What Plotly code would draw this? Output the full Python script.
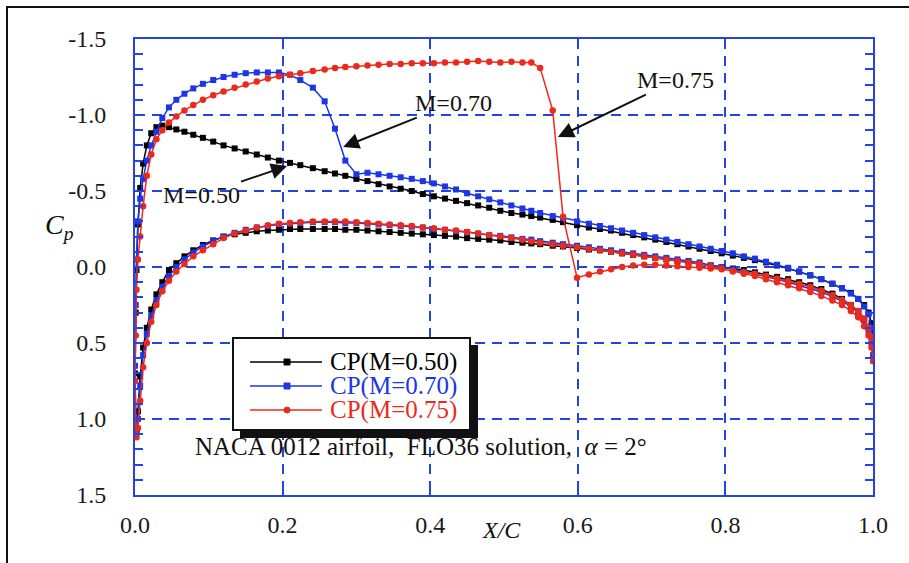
import plotly.graph_objects as go

# Chordwise stations shared by both surfaces (x/c)
X_STATIONS = [
    0.0, 0.001, 0.002, 0.004, 0.007, 0.011, 0.016, 0.022, 0.029, 0.037,
    0.046, 0.056, 0.067, 0.079, 0.092, 0.106, 0.12, 0.135, 0.15, 0.165,
    0.18, 0.195, 0.21, 0.224, 0.241, 0.257, 0.271, 0.285, 0.30, 0.315,
    0.33, 0.345, 0.36, 0.375, 0.39, 0.405, 0.42, 0.435, 0.45, 0.465,
    0.48, 0.495, 0.51, 0.525, 0.537, 0.549, 0.566, 0.58, 0.599, 0.615,
    0.63, 0.645, 0.66, 0.675, 0.69, 0.705, 0.72, 0.735, 0.75, 0.765,
    0.78, 0.795, 0.81, 0.825, 0.84, 0.855, 0.87, 0.885, 0.90, 0.915,
    0.93, 0.945, 0.958, 0.97, 0.98, 0.988, 0.994, 0.998, 1.0,
]

# Upper-surface Cp, one value per station (starting at x/c = 0)
CP_UPPER_M050 = [
    0.70, 0.30, 0.02, -0.28, -0.52, -0.68, -0.80, -0.88, -0.92, -0.93,
    -0.92, -0.905, -0.89, -0.87, -0.85, -0.825, -0.80, -0.78, -0.76, -0.74,
    -0.72, -0.70, -0.685, -0.67, -0.65, -0.63, -0.615, -0.60, -0.58, -0.565,
    -0.545, -0.53, -0.515, -0.50, -0.48, -0.465, -0.45, -0.435, -0.42, -0.405,
    -0.39, -0.37, -0.355, -0.345, -0.335, -0.325, -0.31, -0.295, -0.275, -0.26,
    -0.25, -0.24, -0.225, -0.21, -0.195, -0.18, -0.165, -0.15, -0.135, -0.12,
    -0.105, -0.09, -0.075, -0.06, -0.045, -0.03, -0.01, 0.01, 0.03, 0.055,
    0.08, 0.11, 0.14, 0.17, 0.21, 0.25, 0.30, 0.37, 0.46,
]
CP_UPPER_M070 = [
    0.65, 0.25, -0.05, -0.30, -0.45, -0.58, -0.70, -0.80, -0.89, -0.98,
    -1.05, -1.10, -1.14, -1.175, -1.205, -1.23, -1.25, -1.265, -1.275, -1.28,
    -1.28, -1.28, -1.265, -1.23, -1.18, -1.09, -0.91, -0.70, -0.61, -0.62,
    -0.61, -0.60, -0.59, -0.58, -0.565, -0.55, -0.53, -0.51, -0.485, -0.465,
    -0.445, -0.425, -0.405, -0.385, -0.37, -0.355, -0.335, -0.32, -0.30, -0.285,
    -0.27, -0.255, -0.24, -0.225, -0.21, -0.195, -0.18, -0.165, -0.15, -0.135,
    -0.12, -0.105, -0.09, -0.07, -0.055, -0.035, -0.015, 0.005, 0.03, 0.055,
    0.08, 0.11, 0.14, 0.175, 0.21, 0.26, 0.31, 0.40, 0.50,
]
CP_UPPER_M075 = [
    0.75, 0.45, 0.15, -0.05, -0.20, -0.40, -0.60, -0.74, -0.84, -0.90,
    -0.95, -0.99, -1.03, -1.065, -1.10, -1.13, -1.155, -1.18, -1.20, -1.22,
    -1.24, -1.255, -1.265, -1.275, -1.29, -1.30, -1.31, -1.315, -1.32, -1.325,
    -1.33, -1.335, -1.335, -1.34, -1.34, -1.34, -1.345, -1.345, -1.35, -1.355,
    -1.35, -1.345, -1.35, -1.345, -1.345, -1.31, -1.03, -0.33, 0.07, 0.05,
    0.03, 0.015, 0.0, -0.01, -0.015, -0.015, -0.01, -0.005, 0.0, 0.005,
    0.01, 0.015, 0.025, 0.035, 0.045, 0.06, 0.075, 0.09, 0.11, 0.13,
    0.155, 0.185, 0.215, 0.25, 0.29, 0.34, 0.40, 0.46, 0.47,
]

# Lower-surface Cp, one value per station from x/c = 0.001 onward
CP_LOWER_M050 = [
    1.00, 1.07, 0.95, 0.72, 0.53, 0.40, 0.28, 0.18, 0.10,
    0.02, -0.025, -0.07, -0.11, -0.145, -0.175, -0.20, -0.215, -0.225, -0.235,
    -0.24, -0.245, -0.25, -0.25, -0.25, -0.25, -0.25, -0.245, -0.245, -0.24,
    -0.235, -0.23, -0.225, -0.22, -0.215, -0.21, -0.205, -0.20, -0.19, -0.185,
    -0.18, -0.175, -0.165, -0.16, -0.155, -0.15, -0.14, -0.135, -0.125, -0.115,
    -0.11, -0.10, -0.09, -0.08, -0.07, -0.06, -0.05, -0.04, -0.03, -0.02,
    -0.01, 0.0, 0.01, 0.02, 0.035, 0.05, 0.065, 0.08, 0.10, 0.12,
    0.145, 0.175, 0.21, 0.25, 0.29, 0.34, 0.40, 0.46, 0.52,
]
CP_LOWER_M070 = [
    1.03, 1.09, 1.00, 0.78, 0.58, 0.44, 0.32, 0.22, 0.13,
    0.06, 0.0, -0.05, -0.095, -0.135, -0.17, -0.20, -0.225, -0.245, -0.26,
    -0.27, -0.28, -0.285, -0.29, -0.295, -0.295, -0.295, -0.29, -0.29, -0.285,
    -0.28, -0.275, -0.27, -0.265, -0.26, -0.25, -0.245, -0.235, -0.23, -0.22,
    -0.21, -0.205, -0.195, -0.185, -0.18, -0.17, -0.16, -0.15, -0.14, -0.13,
    -0.12, -0.11, -0.10, -0.09, -0.08, -0.07, -0.06, -0.05, -0.04, -0.03,
    -0.01, 0.0, 0.015, 0.03, 0.045, 0.06, 0.08, 0.10, 0.12, 0.14,
    0.165, 0.195, 0.225, 0.26, 0.30, 0.35, 0.42, 0.50, 0.58,
]
CP_LOWER_M075 = [
    1.05, 1.12, 1.06, 0.88, 0.66, 0.50, 0.36, 0.25, 0.16,
    0.09, 0.03, -0.02, -0.07, -0.11, -0.15, -0.19, -0.22, -0.24, -0.26,
    -0.275, -0.285, -0.29, -0.295, -0.30, -0.30, -0.30, -0.30, -0.295, -0.29,
    -0.285, -0.28, -0.275, -0.27, -0.26, -0.255, -0.245, -0.24, -0.23, -0.22,
    -0.21, -0.20, -0.19, -0.18, -0.17, -0.16, -0.15, -0.14, -0.13, -0.12,
    -0.11, -0.10, -0.09, -0.08, -0.07, -0.06, -0.05, -0.04, -0.03, -0.02,
    -0.005, 0.01, 0.03, 0.045, 0.06, 0.08, 0.10, 0.12, 0.14, 0.165,
    0.19, 0.22, 0.25, 0.29, 0.33, 0.39, 0.45, 0.53, 0.62,
]

SERIES_NAMES = ["CP(M=0.50)", "CP(M=0.70)", "CP(M=0.75)"]
SERIES_COLORS = ["#000000", "#1b36e6", "#ec2a1c"]
SERIES_SYMBOLS = ["square", "square", "circle"]
SERIES_SIZES = [6, 6, 6.5]

X_TICKS = [0.0, 0.2, 0.4, 0.6, 0.8, 1.0]
X_TICK_LABELS = ["0.0", "0.2", "0.4", "0.6", "0.8", "1.0"]
Y_TICKS = [-1.5, -1.0, -0.5, 0.0, 0.5, 1.0, 1.5]
Y_TICK_LABELS = ["-1.5", "-1.0", "-0.5", "0.0", "0.5", "1.0", "1.5"]

# Arrow call-outs: (label, x of arrow tip, Cp of arrow tip, text offset px)
CALLOUTS = [
    ("M=0.50", 0.206, -0.664, -86, 29),
    ("M=0.70", 0.282, -0.789, 110, -44),
    ("M=0.75", 0.573, -0.855, 118, -57),
]

AXIS_BLUE = "#2443e0"
SERIF = "Liberation Serif, Times New Roman, serif"
W, H = 909, 563
L, R, T, B = 135, 36, 39, 68
PW, PH = W - L - R, H - T - B


def px_to_paper(px, py):
    return (px - L) / PW, (H - B - py) / PH


uppers = [CP_UPPER_M050, CP_UPPER_M070, CP_UPPER_M075]
lowers = [CP_LOWER_M050, CP_LOWER_M070, CP_LOWER_M075]

fig = go.Figure()
for name, color, sym, size, up, lo in zip(SERIES_NAMES, SERIES_COLORS, SERIES_SYMBOLS,
                                          SERIES_SIZES, uppers, lowers):
    # trailing edge (upper) -> leading edge -> trailing edge (lower)
    xs = X_STATIONS[::-1] + X_STATIONS[1:]
    ys = up[::-1] + lo
    fig.add_trace(go.Scatter(
        x=xs, y=ys, mode="lines+markers", name=name, showlegend=False,
        line=dict(color=color, width=1.5),
        marker=dict(symbol=sym, size=size, color=color),
    ))

axis_common = dict(
    showline=True, linecolor=AXIS_BLUE, linewidth=2, mirror="ticks",
    ticks="inside", ticklen=8, tickwidth=2, tickcolor=AXIS_BLUE,
    showgrid=True, gridcolor=AXIS_BLUE, gridwidth=2, griddash="10px,7px",
    zeroline=False, tickfont=dict(family=SERIF, size=24, color="#1a1a1a"),
)
fig.update_xaxes(range=[0, 1], tickvals=X_TICKS, ticktext=X_TICK_LABELS,
                 ticklabelstandoff=7, **axis_common)
fig.update_yaxes(range=[1.5, -1.5], tickvals=Y_TICKS, ticktext=Y_TICK_LABELS,
                 ticklabelstandoff=22,
                 minor=dict(dtick=0.1, ticks="inside", ticklen=8, tickwidth=2,
                            tickcolor=AXIS_BLUE, showgrid=False),
                 **axis_common)

shapes = []
# outer frame
fx0, fy1 = px_to_paper(7, 7)
fx1, fy0 = px_to_paper(930, 590)
shapes.append(dict(type="rect", xref="paper", yref="paper", x0=fx0, x1=fx1, y0=fy0, y1=fy1,
                   line=dict(color="#111111", width=2), layer="below"))

# legend box with drop shadow
bx0, by1 = px_to_paper(233, 338)
bx1, by0 = px_to_paper(470, 430)
sx0, sy1 = px_to_paper(240, 345)
sx1, sy0 = px_to_paper(478, 438)
shapes.append(dict(type="rect", xref="paper", yref="paper", x0=sx0, x1=sx1, y0=sy0, y1=sy1,
                   fillcolor="#111111", line=dict(width=0), layer="above"))
shapes.append(dict(type="rect", xref="paper", yref="paper", x0=bx0, x1=bx1, y0=by0, y1=by1,
                   fillcolor="white", line=dict(color="#111111", width=2), layer="above"))

annotations = []
row_y = [362, 386, 410]
for name, color, sym, ry in zip(SERIES_NAMES, SERIES_COLORS, SERIES_SYMBOLS, row_y):
    lx0, ly = px_to_paper(250, ry)
    lx1, _ = px_to_paper(322, ry)
    mx, _ = px_to_paper(287, ry)
    shapes.append(dict(type="line", xref="paper", yref="paper", x0=lx0, x1=lx1, y0=ly, y1=ly,
                       line=dict(color=color, width=1.5), layer="above"))
    shapes.append(dict(type="circle" if sym == "circle" else "rect",
                       xref="paper", yref="paper", xsizemode="pixel", ysizemode="pixel",
                       xanchor=mx, yanchor=ly, x0=-3, x1=3, y0=-3, y1=3,
                       fillcolor=color, line=dict(color=color, width=1), layer="above"))
    tx, _ = px_to_paper(328, ry)
    annotations.append(dict(xref="paper", yref="paper", x=tx, y=ly, xanchor="left",
                            yanchor="middle", text=name, showarrow=False,
                            font=dict(family=SERIF, size=25, color=color)))

for label, ax_x, ax_y, dx, dy in CALLOUTS:
    annotations.append(dict(x=ax_x, y=ax_y, xref="x", yref="y", text=label,
                            showarrow=True, ax=dx, ay=dy, arrowhead=2, arrowsize=1.6,
                            arrowwidth=2, arrowcolor="#111111", standoff=0,
                            font=dict(family=SERIF, size=24, color="#111111")))

nx, ny = px_to_paper(421, 462)
annotations.append(dict(xref="paper", yref="paper", x=nx, y=ny, showarrow=False,
                        text="NACA 0012 airfoil,  FLO36 solution,  <i>α</i> = 2°",
                        font=dict(family=SERIF, size=25, color="#111111")))
cx, cy = px_to_paper(43, 226)
annotations.append(dict(xref="paper", yref="paper", x=cx, y=cy, showarrow=False,
                        text="<i>C</i><sub><i>p</i></sub>",
                        font=dict(family=SERIF, size=28, color="#111111")))
xx, xy = px_to_paper(501, 545)
annotations.append(dict(xref="paper", yref="paper", x=xx, y=xy, showarrow=False,
                        text="<i>X/C</i>",
                        font=dict(family=SERIF, size=24, color="#111111")))

fig.update_layout(
    width=W, height=H, margin=dict(l=L, r=R, t=T, b=B),
    paper_bgcolor="white", plot_bgcolor="white", showlegend=False,
    shapes=shapes, annotations=annotations,
)
fig.write_html("out.html")
